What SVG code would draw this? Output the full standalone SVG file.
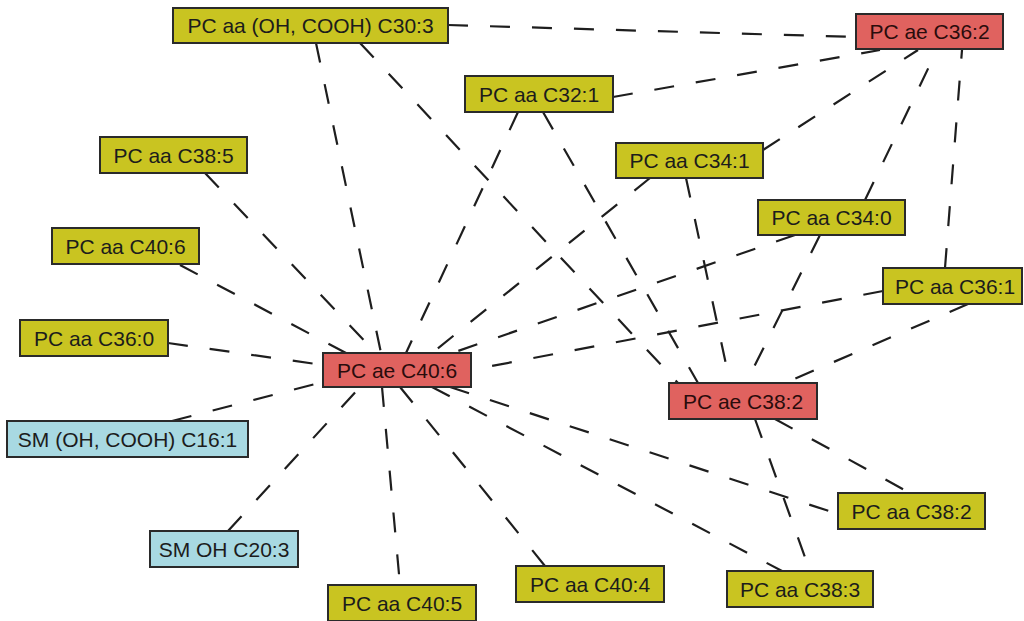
<svg xmlns="http://www.w3.org/2000/svg" width="1024" height="621" viewBox="0 0 1024 621">
<style>
.e{stroke:#1e1e1e;stroke-width:2.2;stroke-dasharray:20 22;fill:none}
.n rect{stroke:#2a2a2a;stroke-width:2}
.y rect{fill:#c9c421}
.r rect{fill:#e0625f}
.b rect{fill:#a8d9e2}
.n text{font-family:"Liberation Sans",Arial,sans-serif;font-size:21px;fill:#1c1c1c;text-anchor:middle}
.r text{fill:#2a0c0c}
</style>
<rect width="1024" height="621" fill="#ffffff"/>
<g id="edges">
<line class="e" x1="448" y1="25" x2="856" y2="37"/>
<line class="e" x1="316" y1="43" x2="381" y2="353"/>
<line class="e" x1="360" y1="43" x2="678" y2="383"/>
<line class="e" x1="613" y1="97" x2="880" y2="50"/>
<line class="e" x1="518" y1="112" x2="406" y2="353"/>
<line class="e" x1="543" y1="112" x2="698" y2="383"/>
<line class="e" x1="763" y1="150" x2="918" y2="50"/>
<line class="e" x1="650" y1="178" x2="432" y2="353"/>
<line class="e" x1="686" y1="178" x2="730" y2="383"/>
<line class="e" x1="865" y1="200" x2="937" y2="50"/>
<line class="e" x1="795" y1="235" x2="455" y2="352"/>
<line class="e" x1="820" y1="235" x2="746" y2="383"/>
<line class="e" x1="945" y1="268" x2="962" y2="50"/>
<line class="e" x1="883" y1="291" x2="471" y2="370"/>
<line class="e" x1="968" y1="304" x2="785" y2="383"/>
<line class="e" x1="775" y1="419" x2="910" y2="493"/>
<line class="e" x1="755" y1="419" x2="810" y2="571"/>
<line class="e" x1="205" y1="173" x2="376" y2="353"/>
<line class="e" x1="180" y1="265" x2="346" y2="353"/>
<line class="e" x1="168" y1="343" x2="323" y2="365"/>
<line class="e" x1="172" y1="421" x2="323" y2="382"/>
<line class="e" x1="228" y1="531" x2="360" y2="387"/>
<line class="e" x1="382" y1="387" x2="400" y2="585"/>
<line class="e" x1="400" y1="387" x2="545" y2="566"/>
<line class="e" x1="432" y1="387" x2="782" y2="571"/>
<line class="e" x1="450" y1="387" x2="838" y2="514"/>
</g>
<g id="n_c30_3" class="n y"><rect x="173" y="8" width="275" height="35"/><text x="310.5" y="33">PC aa (OH, COOH) C30:3</text></g>
<g id="n_c36_2" class="n r"><rect x="856" y="14" width="147" height="35"/><text x="929.5" y="39">PC ae C36:2</text></g>
<g id="n_c32_1" class="n y"><rect x="465" y="76" width="148" height="36"/><text x="539" y="101.5">PC aa C32:1</text></g>
<g id="n_c38_5" class="n y"><rect x="100" y="137" width="147" height="36"/><text x="173.5" y="162.5">PC aa C38:5</text></g>
<g id="n_c34_1" class="n y"><rect x="616" y="143" width="147" height="35"/><text x="689.5" y="168">PC aa C34:1</text></g>
<g id="n_c34_0" class="n y"><rect x="758" y="200" width="147" height="35"/><text x="831.5" y="225">PC aa C34:0</text></g>
<g id="n_c40_6aa" class="n y"><rect x="52" y="228" width="147" height="36"/><text x="125.5" y="253.5">PC aa C40:6</text></g>
<g id="n_c36_1" class="n y"><rect x="883" y="268" width="139" height="36"/><text x="955" y="293.5">PC aa C36:1</text></g>
<g id="n_c36_0" class="n y"><rect x="20" y="320" width="148" height="36"/><text x="94" y="345.5">PC aa C36:0</text></g>
<g id="n_c40_6ae" class="n r"><rect x="323" y="353" width="148" height="34"/><text x="397" y="377.5">PC ae C40:6</text></g>
<g id="n_c38_2ae" class="n r"><rect x="669" y="383" width="148" height="36"/><text x="743" y="408.5">PC ae C38:2</text></g>
<g id="n_sm16_1" class="n b"><rect x="7" y="421" width="241" height="36"/><text x="127.5" y="446.5">SM (OH, COOH) C16:1</text></g>
<g id="n_c38_2aa" class="n y"><rect x="838" y="493" width="147" height="36"/><text x="911.5" y="518.5">PC aa C38:2</text></g>
<g id="n_sm20_3" class="n b"><rect x="150" y="531" width="148" height="36"/><text x="224" y="556.5">SM OH C20:3</text></g>
<g id="n_c40_4" class="n y"><rect x="516" y="566" width="148" height="36"/><text x="590" y="591.5">PC aa C40:4</text></g>
<g id="n_c38_3" class="n y"><rect x="727" y="571" width="146" height="36"/><text x="800" y="596.5">PC aa C38:3</text></g>
<g id="n_c40_5" class="n y"><rect x="328" y="585" width="148" height="36"/><text x="402" y="610.5">PC aa C40:5</text></g>
</svg>
